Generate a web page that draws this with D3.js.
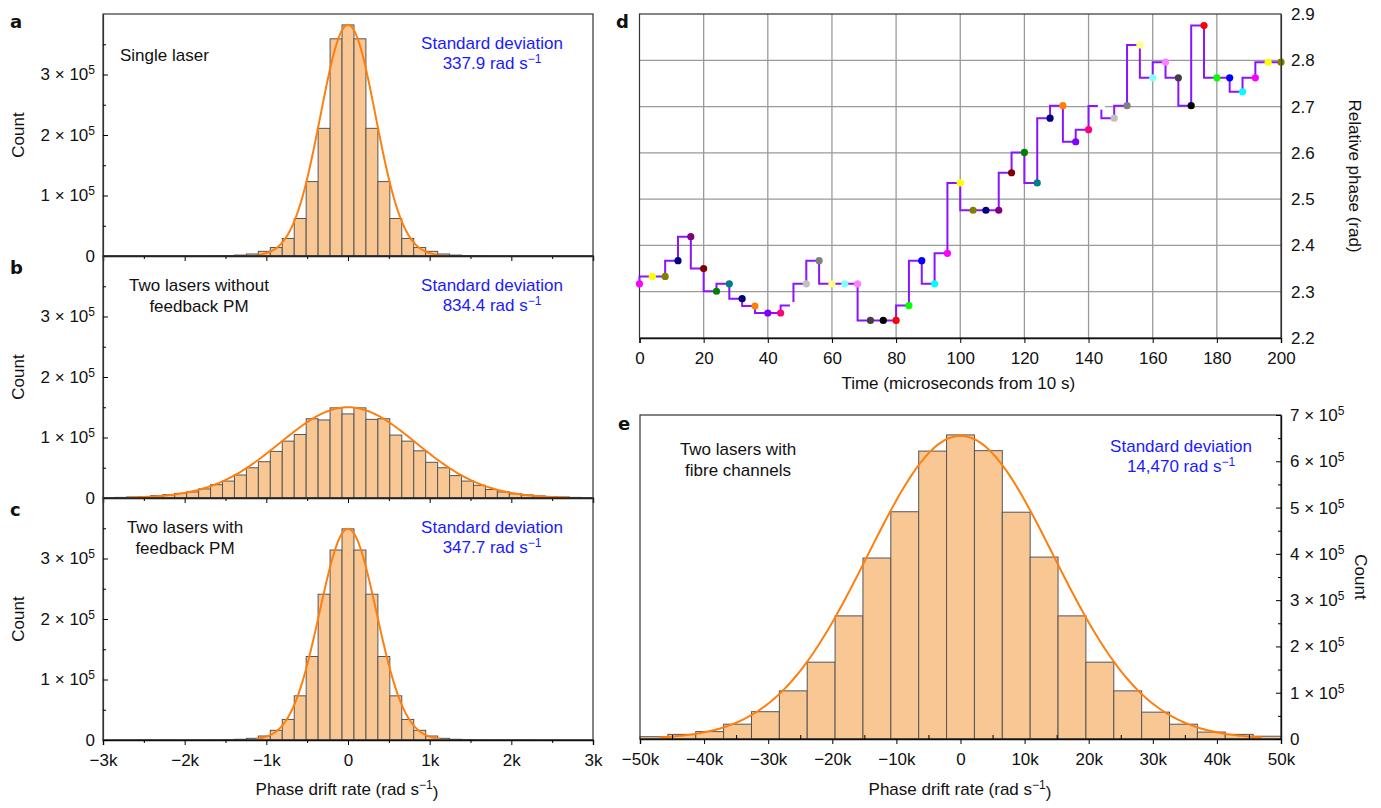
<!DOCTYPE html>
<html>
<head>
<meta charset="utf-8">
<script src="https://cdn.jsdelivr.net/npm/d3@7"></script>
<style>
  body { margin: 0; background: #fff; }
  text { font-family: "Liberation Sans", Arial, Helvetica, sans-serif; fill: #111; }
</style>
</head>
<body>
<svg id="chart" width="1381" height="808"></svg>
<script>
// ---------------- DATA ----------------
// histogram counts, a/b/c use 41 bins over -3k..3k, e uses 23 bins over -50k..50k
var countsA = [100,100,150,150,200,200,250,300,400,500,800,1500,3300,7700,14000,29000,62000,123000,211000,359000,
  382000,
  359000,211000,123000,62000,29000,14000,7700,3300,1500,800,500,400,300,250,200,200,150,150,100,100];
var countsB = [600,1000,1600,2200,4000,5500,7700,10000,15000,22000,28000,38000,50000,60000,77000,94000,105000,131000,129000,149000,
  139000,
  149000,130000,131000,104000,94000,78000,59000,50000,37000,28000,21000,14000,10000,7000,5000,3500,2300,1600,1000,600];
var countsC = [100,100,100,150,150,200,200,250,300,400,600,1200,2800,6600,16000,34000,73000,138000,241000,314000,
  349000,
  314000,241000,138000,73000,34000,16000,6600,2800,1200,600,400,300,250,200,200,150,150,100,100,100];
var countsE = [5000,10000,16000,32000,59000,104000,166000,266000,391000,491000,622000,
  657000,
  623000,490000,393000,266000,166000,104000,58000,32000,15000,10000,6000];

// gaussian fits (std dev as printed, peak)
var fitSigma = [337.9, 834.4, 347.7, 14470];
var fitPeak = [382000, 150000, 349000, 655000];

var panelNotes = [["Single laser"], ["Two lasers without", "feedback PM"], ["Two lasers with", "feedback PM"], ["Two lasers with", "fibre channels"]];
var sdLabels = ["337.9", "834.4", "347.7", "14,470"];

// panel d: relative phase sampled every 4 microseconds
var timeUs = [0,4,8,12,16,20,24,28,32,36,40,44,48,52,56,60,64,68,72,76,80,84,88,92,96,100,
  104,108,112,116,120,124,128,132,136,140,144,148,152,156,160,164,168,172,176,180,184,188,192,196,200];
var phase = [2.317,2.333,2.333,2.367,2.419,2.350,2.301,2.317,2.285,2.269,2.254,2.254,2.270,2.317,2.367,2.317,2.317,2.317,
  2.238,2.238,2.238,2.270,2.367,2.317,2.383,2.535,2.476,2.476,2.476,2.557,2.601,2.535,2.675,2.702,2.624,2.650,
  2.701,2.675,2.702,2.833,2.762,2.796,2.762,2.702,2.875,2.762,2.762,2.732,2.762,2.796,2.796];
var dotColors = ["#ff00ff","#ffff00","#808000","#000080","#800080","#800000","#008000","#008080","#000080","#ff8000",
  "#8000ff","#ff0080","#ffffff","#c0c0c0","#808080","#ffff80","#80ffff","#ff80ff","#404040","#000000",
  "#ff0000","#00ff00","#0000ff","#00ffff"];

var acTicks = [-3000,-2000,-1000,0,1000,2000,3000];
var acMinor = [-2500,-1500,-500,500,1500,2500];
var eTicks = [-50000,-40000,-30000,-20000,-10000,0,10000,20000,30000,40000,50000];
var eMinor = [-45000,-35000,-25000,-15000,-5000,5000,15000,25000,35000,45000];
var dTicks = [0,20,40,60,80,100,120,140,160,180,200];
var dPhaseTicks = [2.2,2.3,2.4,2.5,2.6,2.7,2.8,2.9];

// ---------------- STYLE ----------------
var barFill = "#f9c794", barStroke = "#555", fitColor = "#ff7f0e", blue = "#1a1aff";
var frameColor = "#333";
var fs = "17px", supFs = "12px";

var svg = d3.select("#chart");

function kFormat(d) {
  if (d === 0) return "0";
  return (d < 0 ? "\u2212" : "") + Math.abs(d) / 1000 + "k";
}

// "n × 10^5" labels
function sciTicks(sel) {
  sel.selectAll(".tick text").each(function (d) {
    var t = d3.select(this);
    t.text(null);
    if (d === 0) { t.text("0"); return; }
    t.append("tspan").text(Math.round(d / 1e5) + " \u00d7 10");
    t.append("tspan").attr("dy", "-0.5em").style("font-size", supFs).text("5");
  });
}

function radText(g, x, y, prefix, color, anchor) {
  var t = g.append("text").attr("x", x).attr("y", y)
    .attr("text-anchor", anchor || "middle").style("font-size", fs).style("fill", color);
  t.append("tspan").text(prefix + " (rad s");
  t.append("tspan").attr("dy", "-0.5em").style("font-size", supFs).text("\u22121");
  t.append("tspan").attr("dy", "0.5em").text(")");
  return t;
}

function sdText(g, x, y, idx) {
  g.append("text").attr("x", x).attr("y", y).attr("text-anchor", "middle")
    .style("font-size", fs).style("fill", blue).text("Standard deviation");
  var t = g.append("text").attr("x", x).attr("y", y + 20).attr("text-anchor", "middle")
    .style("font-size", fs).style("fill", blue);
  t.append("tspan").text(sdLabels[idx] + " rad s");
  t.append("tspan").attr("dy", "-0.5em").style("font-size", supFs).text("\u22121");
}

function drawBars(g, counts, x, y, lo, hi) {
  var w = (hi - lo) / counts.length;
  g.append("g").selectAll("rect")
    .data(counts)
    .enter().append("rect")
    .attr("x", function (d, i) { return x(lo + i * w); })
    .attr("width", function (d, i) { return x(lo + (i + 1) * w) - x(lo + i * w); })
    .attr("y", function (d) { return y(d); })
    .attr("height", function (d) { return y(0) - y(d); })
    .style("fill", barFill)
    .style("stroke", barStroke)
    .style("stroke-width", 1);
}

function drawFit(g, idx, x, y) {
  var s = fitSigma[idx], a = fitPeak[idx];
  var xs = d3.range(-3.25 * s, 3.25 * s + 1e-9, s / 40);
  var line = d3.line()
    .x(function (d) { return x(d); })
    .y(function (d) { return y(a * Math.exp(-d * d / (2 * s * s))); });
  g.append("path").datum(xs).attr("d", line)
    .style("fill", "none").style("stroke", fitColor).style("stroke-width", 2);
}

function panelLetter(x, y, s) {
  svg.append("text").attr("x", x).attr("y", y).style("font-size", "18px")
    .style("font-weight", "bold").style("font-family", "'DejaVu Sans', sans-serif").text(s);
}

// ---------------- PANELS a, b, c ----------------
var acLeft = 103, acRight = 593, acH = 242;
var acTops = [14, 256, 498];
var acCounts = [countsA, countsB, countsC];
var acX = d3.scaleLinear().domain([-3000, 3000]).range([acLeft, acRight]);

acTops.forEach(function (top, i) {
  var g = svg.append("g");
  var y = d3.scaleLinear().domain([0, 4e5]).range([top + acH, top]);

  drawBars(g, acCounts[i], acX, y, -3000, 3000);
  drawFit(g, i, acX, y);

  // frame
  g.append("rect").attr("x", acLeft).attr("y", top).attr("width", acRight - acLeft).attr("height", acH)
    .style("fill", "none").style("stroke", frameColor).style("stroke-width", 1.2);

  // bottom axis (labels only on c)
  var xa = g.append("g").attr("transform", "translate(0," + (top + acH) + ")")
    .call(d3.axisBottom(acX).tickValues(acTicks).tickSize(5).tickPadding(9)
      .tickFormat(i === 2 ? kFormat : ""));
  g.append("g").attr("transform", "translate(0," + (top + acH) + ")")
    .call(d3.axisBottom(acX).tickValues(acMinor).tickSize(3).tickFormat(""))
    .select(".domain").remove();
  xa.selectAll("text").style("font-size", fs).style("fill", "#111");
  xa.select(".domain").style("stroke", "#111").style("stroke-width", 1.4);

  // left axis, ticks inside
  var ya = g.append("g").attr("transform", "translate(" + acLeft + ",0)")
    .call(d3.axisLeft(y).tickValues([0, 1e5, 2e5, 3e5]).tickSizeInner(-5).tickSizeOuter(0).tickPadding(8));
  g.append("g").attr("transform", "translate(" + acLeft + ",0)")
    .call(d3.axisLeft(y).tickValues([0.5e5, 1.5e5, 2.5e5, 3.5e5]).tickSizeInner(-3).tickSizeOuter(0).tickFormat(""))
    .select(".domain").remove();
  ya.selectAll("text").style("font-size", fs);
  sciTicks(ya);
  ya.select(".domain").style("stroke", frameColor).style("stroke-width", 1.2);

  g.append("text").attr("transform", "translate(24," + (top + acH / 2) + ") rotate(-90)")
    .attr("text-anchor", "middle").style("font-size", fs).text("Count");

  // notes
  var notes = panelNotes[i];
  notes.forEach(function (s, k) {
    g.append("text")
      .attr("x", notes.length === 1 ? 120 : (i === 1 ? 199 : 185))
      .attr("y", top + (notes.length === 1 ? 47 : 35) + k * 21)
      .attr("text-anchor", notes.length === 1 ? "start" : "middle")
      .style("font-size", fs).text(s);
  });
  sdText(g, 492, top + 35, i);
});

radText(svg, 347, 795, "Phase drift rate", "#111");
panelLetter(10, 28, "a");
panelLetter(10, 274, "b");
panelLetter(10, 516, "c");

// ---------------- PANEL d ----------------
var dLeft = 639.5, dRight = 1281, dTop = 14, dBottom = 338;
var dX = d3.scaleLinear().domain([0, 200]).range([dLeft, dRight]);
var dY = d3.scaleLinear().domain([2.2, 2.9]).range([dBottom, dTop]);
var gd = svg.append("g");

// grid
gd.append("g").selectAll("line").data(dTicks.slice(1, -1)).enter().append("line")
  .attr("x1", function (d) { return dX(d); }).attr("x2", function (d) { return dX(d); })
  .attr("y1", dTop).attr("y2", dBottom).style("stroke", "#9a9a9a").style("stroke-width", 1.3);
gd.append("g").selectAll("line").data(dPhaseTicks.slice(1, -1)).enter().append("line")
  .attr("x1", dLeft).attr("x2", dRight)
  .attr("y1", function (d) { return dY(d); }).attr("y2", function (d) { return dY(d); })
  .style("stroke", "#9a9a9a").style("stroke-width", 1.3);

gd.append("rect").attr("x", dLeft).attr("y", dTop).attr("width", dRight - dLeft).attr("height", dBottom - dTop)
  .style("fill", "none").style("stroke", frameColor).style("stroke-width", 1.2);

var phasePts = timeUs.map(function (t, i) { return [t, phase[i]]; });
var stepLine = d3.line()
  .x(function (d) { return dX(d[0]); })
  .y(function (d) { return dY(d[1]); })
  .curve(d3.curveStepBefore);
gd.append("path").datum(phasePts).attr("d", stepLine)
  .style("fill", "none").style("stroke", "#8a14ff").style("stroke-width", 2);

gd.append("g").selectAll("circle").data(phasePts).enter().append("circle")
  .attr("cx", function (d) { return dX(d[0]); })
  .attr("cy", function (d) { return dY(d[1]); })
  .attr("r", 3.6)
  .style("fill", function (d, i) { return dotColors[i % dotColors.length]; });

var dxa = gd.append("g").attr("transform", "translate(0," + dBottom + ")")
  .call(d3.axisBottom(dX).tickValues(dTicks).tickSize(5).tickPadding(9));
dxa.selectAll("text").style("font-size", fs);
dxa.select(".domain").style("stroke", "#111").style("stroke-width", 1.4);

var dya = gd.append("g").attr("transform", "translate(" + dRight + ",0)")
  .call(d3.axisRight(dY).tickValues(dPhaseTicks).tickSize(0).tickPadding(10).tickFormat(d3.format(".1f")));
dya.selectAll("text").style("font-size", fs);
dya.select(".domain").style("stroke", frameColor).style("stroke-width", 1.2);

gd.append("text").attr("x", (dLeft + dRight) / 2 - 2).attr("y", 389).attr("text-anchor", "middle")
  .style("font-size", fs).text("Time (microseconds from 10 s)");
gd.append("text").attr("transform", "translate(1349," + ((dTop + dBottom) / 2) + ") rotate(90)")
  .attr("text-anchor", "middle").style("font-size", fs).text("Relative phase (rad)");
panelLetter(616, 28, "d");

// ---------------- PANEL e ----------------
var eLeft = 640, eRight = 1281, eTop = 415, eBottom = 739;
var eX = d3.scaleLinear().domain([-50000, 50000]).range([eLeft, eRight]);
var eY = d3.scaleLinear().domain([0, 7e5]).range([eBottom, eTop]);
var ge = svg.append("g");

drawBars(ge, countsE, eX, eY, -50000, 50000);
drawFit(ge, 3, eX, eY);

ge.append("rect").attr("x", eLeft).attr("y", eTop).attr("width", eRight - eLeft).attr("height", eBottom - eTop)
  .style("fill", "none").style("stroke", frameColor).style("stroke-width", 1.2);

var exa = ge.append("g").attr("transform", "translate(0," + eBottom + ")")
  .call(d3.axisBottom(eX).tickValues(eTicks).tickSize(5).tickPadding(9).tickFormat(kFormat));
ge.append("g").attr("transform", "translate(0," + eBottom + ")")
  .call(d3.axisBottom(eX).tickValues(eMinor).tickSize(-4).tickFormat(""))
  .select(".domain").remove();
exa.selectAll("text").style("font-size", fs);
exa.select(".domain").style("stroke", "#111").style("stroke-width", 1.4);

var eya = ge.append("g").attr("transform", "translate(" + eRight + ",0)")
  .call(d3.axisRight(eY).tickValues(d3.range(0, 7.01e5, 1e5)).tickSizeInner(-5).tickSizeOuter(0).tickPadding(9));
ge.append("g").attr("transform", "translate(" + eRight + ",0)")
  .call(d3.axisRight(eY).tickValues(d3.range(0.5e5, 7e5, 1e5)).tickSizeInner(-3).tickSizeOuter(0).tickFormat(""))
  .select(".domain").remove();
eya.selectAll("text").style("font-size", fs);
sciTicks(eya);
eya.select(".domain").style("stroke", "#111").style("stroke-width", 1.4);

ge.append("text").attr("transform", "translate(1355," + ((eTop + eBottom) / 2) + ") rotate(90)")
  .attr("text-anchor", "middle").style("font-size", fs).text("Count");

panelNotes[3].forEach(function (s, k) {
  ge.append("text").attr("x", 738).attr("y", 455 + k * 21).attr("text-anchor", "middle")
    .style("font-size", fs).text(s);
});
sdText(ge, 1181, 452, 3);
radText(svg, 960, 795, "Phase drift rate", "#111");
panelLetter(618, 430, "e");
</script>
</body>
</html>
